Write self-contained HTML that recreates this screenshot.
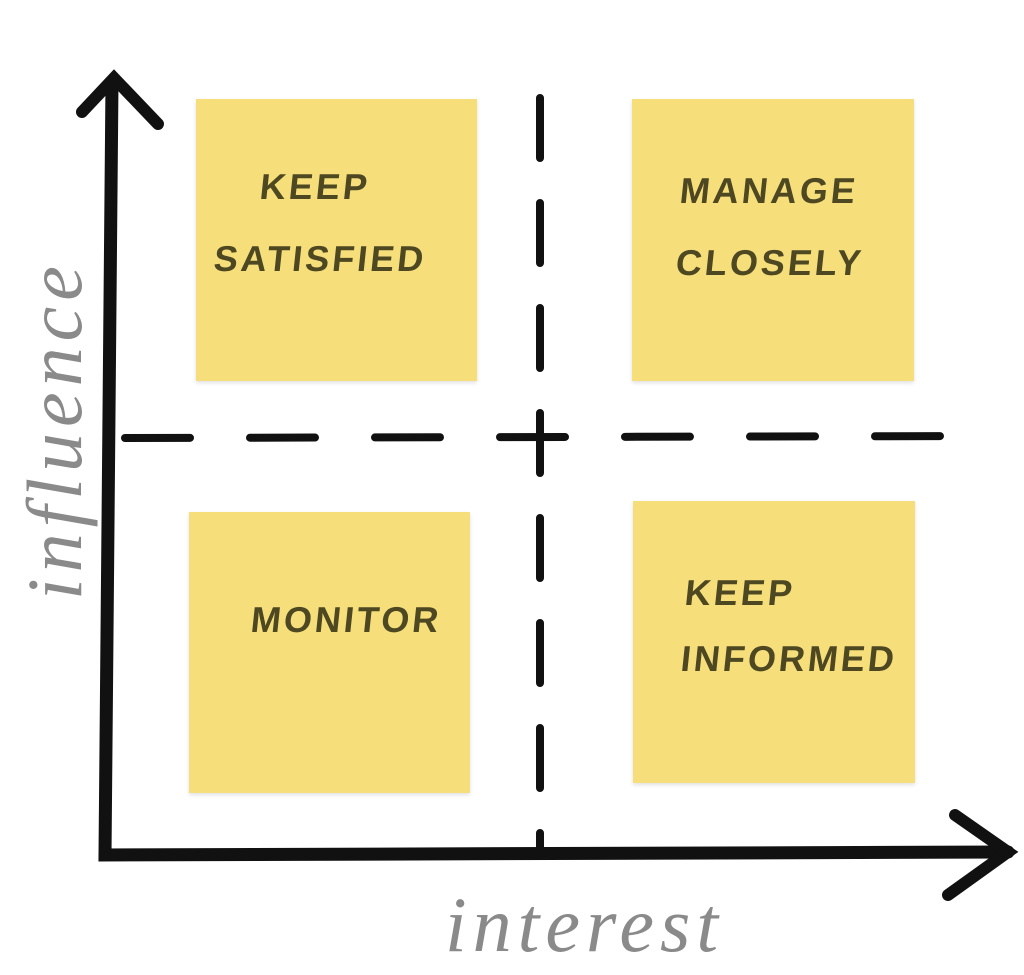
<!DOCTYPE html>
<html><head><style>
body{margin:0;width:1024px;height:975px;background:#fff;position:relative;overflow:hidden;font-family:"Liberation Sans",sans-serif}
.n{position:absolute;background:#f6df7a;box-shadow:0 2px 4px rgba(0,0,0,0.12);color:#4d4722;font-weight:bold;font-size:36px;letter-spacing:3px;line-height:72px}
.n span{position:absolute;white-space:nowrap;transform:skewX(-6deg)}
.lab{position:absolute;color:#8a8a8a;font-family:"Liberation Serif",serif;font-style:italic;font-size:78px;letter-spacing:6px}
</style></head><body>
<div class="n" style="left:196px;top:99px;width:281px;height:282px"><span style="left:64px;top:52px">KEEP</span><span style="left:18px;top:124px">SATISFIED</span></div>
<div class="n" style="left:632px;top:99px;width:282px;height:282px"><span style="left:48px;top:56px">MANAGE</span><span style="left:44px;top:128px">CLOSELY</span></div>
<div class="n" style="left:189px;top:512px;width:281px;height:281px"><span style="left:62px;top:72px">MONITOR</span></div>
<div class="n" style="left:633px;top:501px;width:282px;height:282px"><span style="left:52px;top:56px">KEEP</span><span style="left:48px;top:122px">INFORMED</span></div>
<svg width="1024" height="975" style="position:absolute;left:0;top:0">
<g stroke="#111" fill="none" stroke-linecap="round">
<path d="M112 82 L105 855 L1008 852" stroke-width="13"/>
<path d="M82 112 L114 78 L158 124" stroke-width="12"/>
<path d="M955 815 L1008 852 L948 895" stroke-width="12"/>
<path d="M125 438 L980 436" stroke-width="8" stroke-dasharray="65 60"/>
<path d="M540 98 L540 850" stroke-width="8" stroke-dasharray="60 45"/>
</g></svg>
<div class="lab" style="left:445px;top:880px">interest</div>
<div class="lab" style="left:-110px;top:390px;transform:rotate(-90deg);width:330px;text-align:center">influence</div>
</body></html>
